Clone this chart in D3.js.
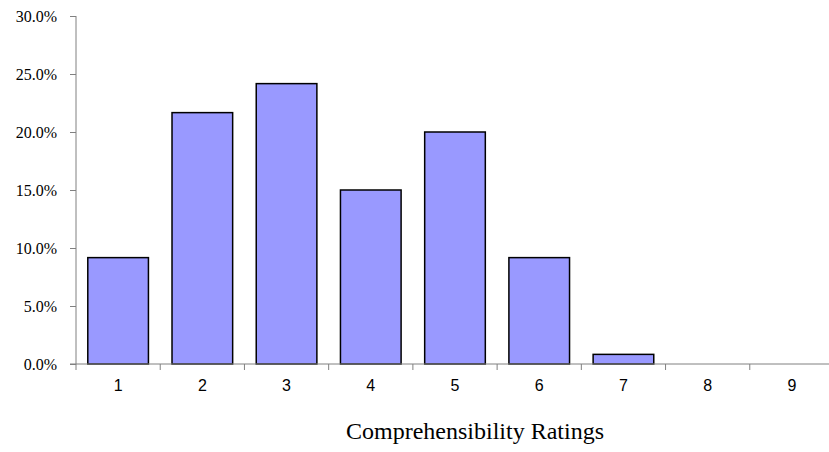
<!DOCTYPE html>
<html><head><meta charset="utf-8">
<script src="https://cdn.jsdelivr.net/npm/d3@7"></script>
<style>body{margin:0;background:#fff}svg{display:block}</style>
</head><body>
<svg id="c" width="829" height="452"></svg>
<script>
const categories = ["1","2","3","4","5","6","7","8","9"];
const values = [9.17, 21.67, 24.17, 15.0, 20.0, 9.17, 0.83, 0, 0];
const yTicks = [0, 5, 10, 15, 20, 25, 30];
const xTitle = "Comprehensibility Ratings";

(function(){
const svg = d3.select("#c");
const mL = 76, mR = 834, mT = 16, mB = 364;
const x = d3.scaleBand().domain(categories).range([mL, mR]).paddingInner(0.28).paddingOuter(0.14);
const xb = d3.scaleBand().domain(categories).range([mL, mR]);
const y = d3.scaleLinear().domain([0, 30]).range([mB, mT]);

svg.selectAll("rect.bar").data(values.map((v,i)=>({c:categories[i], v})).filter(d=>d.v>0))
  .enter().append("rect").attr("class","bar")
  .attr("x", d=>x(d.c)).attr("width", x.bandwidth())
  .attr("y", d=>y(d.v)).attr("height", d=>y(0)-y(d.v))
  .attr("fill","#9999ff").attr("stroke","#000").attr("stroke-width",1.5);

const ya = svg.append("g").attr("transform",`translate(${mL},0)`)
  .call(d3.axisLeft(y).tickValues(yTicks).tickSize(6).tickPadding(13).tickFormat(d=>d.toFixed(1)+"%"));
ya.select(".domain").attr("stroke","#808080").attr("d",`M0,${mT}V${mB}`);
ya.selectAll(".tick line").attr("stroke","#808080");
ya.selectAll("text").attr("font-family","'Liberation Serif','Times New Roman',serif").attr("font-size",16).attr("fill","#000");

const xa = svg.append("g").attr("transform",`translate(0,${mB})`)
  .call(d3.axisBottom(xb).tickSize(0).tickPadding(16));
xa.select(".domain").attr("stroke","#808080").attr("d",`M${mL-6},0H${mR}`);
xa.selectAll("text").attr("font-family","'Liberation Sans',Arial,sans-serif").attr("font-size",16).attr("fill","#000");
svg.append("g").selectAll("line").data(categories).enter().append("line")
  .attr("x1", d=>xb(d)).attr("x2", d=>xb(d)).attr("y1", mB).attr("y2", mB+6)
  .attr("stroke","#808080");

svg.append("text").attr("x",475).attr("y",439).attr("text-anchor","middle")
  .attr("font-family","'Liberation Serif','Times New Roman',serif").attr("font-size",24).text(xTitle);
})();
</script>
</body></html>
